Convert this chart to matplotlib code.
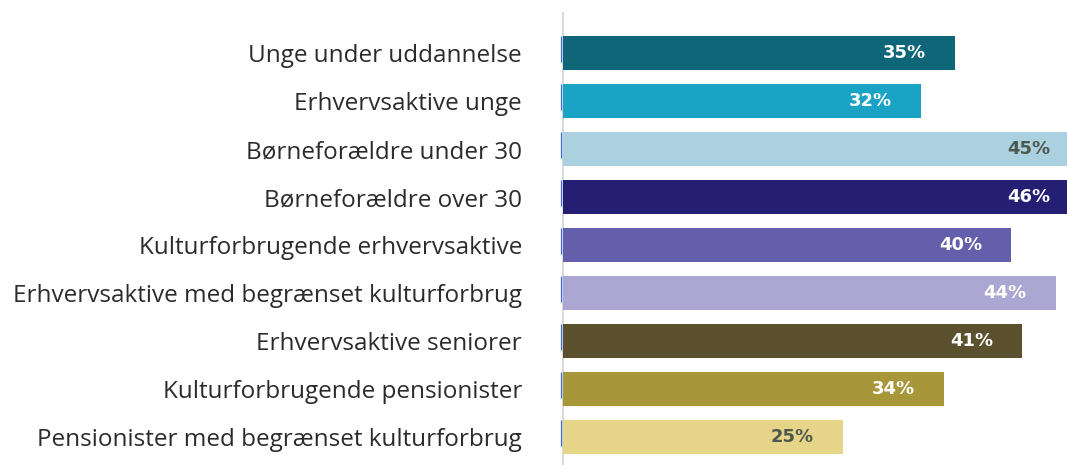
import matplotlib
matplotlib.use("Agg")
import matplotlib.pyplot as plt

# Segment names and share (%) per segment
categories = [
    "Unge under uddannelse",
    "Erhvervsaktive unge",
    "Børneforældre under 30",
    "Børneforældre over 30",
    "Kulturforbrugende erhvervsaktive",
    "Erhvervsaktive med begrænset kulturforbrug",
    "Erhvervsaktive seniorer",
    "Kulturforbrugende pensionister",
    "Pensionister med begrænset kulturforbrug",
]
values = [35, 32, 45, 46, 40, 44, 41, 34, 25]
bar_colors = ["#0e6678", "#1ba3c6", "#abd0e0", "#241f73", "#645fab",
              "#aba6d2", "#5c512e", "#a8963a", "#e6d488"]
label_colors = ["white", "white", "#4d574c", "white", "white",
                "white", "white", "white", "#4d574c"]

W, H, DPI = 1067, 465, 100
fig = plt.figure(figsize=(W / DPI, H / DPI), dpi=DPI)
left_px, top_px = 563, 13
ax = fig.add_axes([left_px / W, 0, 1 - left_px / W, 1 - top_px / H])

px_per_unit = 11.2
xmax = (W - left_px) / px_per_unit
pitch = 48
ax.set_xlim(0, xmax)
ax.set_ylim((H - 53) / pitch, -(53 - top_px) / pitch)

ypos = list(range(len(categories)))
ax.barh(ypos, values, height=34 / pitch, color=bar_colors, zorder=3)

# value labels inside the bar ends (kept inside the plot for bars that run off)
for y, v, c in zip(ypos, values, label_colors):
    if v >= xmax:
        x = xmax - 17 / px_per_unit
    else:
        x = v - 29 / px_per_unit
    ax.text(x, y, f"{v}%", ha="right", va="center", color=c,
            fontsize=13, fontweight="bold", family="DejaVu Sans", zorder=4)

# small marker at the left of each bar
for y in ypos:
    ax.plot([-2.5 / px_per_unit] * 2, [y - 0.35, y + 0.18], color="#3b6fd6",
            lw=0.9, clip_on=False, zorder=5, solid_capstyle="butt")

ax.set_yticks(ypos)
ax.tick_params(axis="y", length=0, pad=41 * 72 / DPI, labelsize=17.5,
               labelcolor="#2b2b2b")
ax.set_yticklabels(categories)
for lbl in ax.get_yticklabels():
    lbl.set_family("Open Sans")
    lbl.set_fontsize(17.5)
ax.set_xticks([])
for s in ["top", "right", "bottom"]:
    ax.spines[s].set_visible(False)
ax.spines["left"].set_color("#d9d9d9")
ax.spines["left"].set_linewidth(2 * 72 / DPI)

fig.savefig("out.png", dpi=DPI)
